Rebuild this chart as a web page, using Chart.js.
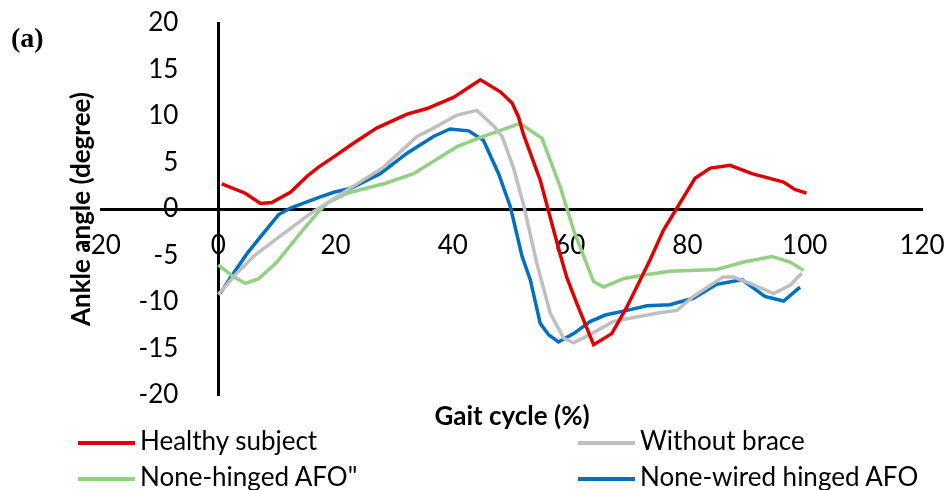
<!DOCTYPE html>
<html lang="en">

<head>
    <meta charset="UTF-8">
    <title>Ankle angle over gait cycle</title>
    <script src="https://cdnjs.cloudflare.com/ajax/libs/Chart.js/4.4.1/chart.umd.min.js"></script>
    <style>
        body {
            margin: 0;
            background: #fff;
        }

        .wrap {
            position: relative;
            width: 946px;
            height: 490px;
            overflow: hidden;
        }

        .legend-item {
            position: absolute;
            font-family: Lato, sans-serif;
            font-size: 26px;
            color: #000;
            line-height: 30px;
            white-space: nowrap;
        }

        .legend-item span.swatch {
            display: inline-block;
            width: 57px;
            height: 4px;
            margin-right: 5px;
            vertical-align: middle;
        }
    </style>
</head>

<body>
    <div class="wrap">
        <canvas id="chart" width="946" height="490"></canvas>
        <div id="legend"></div>
    </div>

    <script>
        // Series (gait cycle %, ankle angle in degrees)
        const healthyX = [0.6, 4.6, 7.2, 9.1, 12.3, 15.1, 17.1, 19.7, 23.1, 27.0, 32.2, 35.6, 40.1, 44.7, 48.1, 50.1, 51.2, 52.0, 54.9, 56.6, 58.4, 59.4, 61.1, 64.0, 67.1, 69.7, 73.6, 75.9, 78.2, 81.3, 83.9, 87.3, 91.0, 96.4, 98.3, 100.3];
        const healthyY = [2.7, 1.7, 0.6, 0.7, 1.8, 3.5, 4.5, 5.6, 7.1, 8.7, 10.2, 10.8, 12.0, 13.9, 12.6, 11.4, 9.9, 8.1, 3.1, -0.9, -5.1, -7.3, -10.1, -14.6, -13.4, -10.5, -5.5, -2.3, 0.1, 3.3, 4.4, 4.7, 3.8, 2.9, 2.1, 1.7];

        const noBraceX = [0, 3, 6, 10.6, 15.7, 21.9, 28.2, 33.9, 36.7, 40.7, 44.1, 47.0, 48.4, 50.3, 52.0, 54.3, 56.6, 58.9, 60.6, 63.4, 67.4, 71.4, 74.8, 78.2, 81.0, 86.1, 87.8, 90.7, 94.7, 97.5, 99.5];
        const noBraceY = [-9.2, -7.0, -5.1, -2.9, -0.5, 2.0, 4.5, 7.8, 8.7, 10.1, 10.6, 8.9, 7.8, 4.5, 0.6, -5.8, -11.2, -13.9, -14.4, -13.5, -12.1, -11.6, -11.2, -10.9, -9.4, -7.3, -7.3, -8.0, -9.1, -8.2, -6.9];

        const nonHingedX = [0, 2.6, 4.6, 6.9, 10.0, 14.0, 16.8, 18.5, 21.9, 28.7, 33.3, 40.7, 45.2, 51.5, 55.2, 58.3, 60.6, 64.0, 65.7, 69.1, 72.5, 77.0, 85.0, 89.6, 94.4, 97.5, 99.8];
        const nonHingedY = [-6.0, -7.3, -8.0, -7.5, -5.7, -2.6, -0.5, 0.6, 1.7, 2.8, 3.8, 6.7, 7.8, 9.2, 7.6, 2.4, -2.3, -7.8, -8.4, -7.5, -7.1, -6.7, -6.5, -5.7, -5.1, -5.7, -6.6];

        const wiredX = [0.3, 2.6, 4.9, 7.7, 10.3, 12.3, 17.4, 19.7, 22.5, 27.6, 32.2, 36.7, 39.5, 42.7, 45.2, 47.8, 49.8, 51.8, 53.2, 54.9, 56.3, 58.0, 60.6, 63.4, 66.0, 69.7, 73.1, 77.0, 81.0, 85.0, 89.3, 93.2, 96.4, 99.2];
        const wiredY = [-9.1, -6.9, -4.8, -2.6, -0.6, 0.1, 1.3, 1.8, 2.2, 3.8, 6.0, 7.8, 8.6, 8.4, 7.4, 3.8, 0.25, -5.1, -7.6, -12.3, -13.5, -14.3, -13.4, -12.1, -11.4, -10.9, -10.4, -10.3, -9.6, -8.1, -7.6, -9.4, -9.9, -8.4];

        const seriesNames = ['Healthy subject', 'Without brace', 'None-hinged AFO"', 'None-wired hinged AFO'];
        const seriesColors = ['#e00000', '#bfbfbf', '#92d184', '#0070c0'];

        const xTicks = [-20, 0, 20, 40, 60, 80, 100, 120];
        const yTicks = [-20, -15, -10, -5, 0, 5, 10, 15, 20];

        function toPoints(xs, ys) {
            return xs.map((x, i) => ({ x: x, y: ys[i] }));
        }

        const allSeries = [
            toPoints(healthyX, healthyY),
            toPoints(noBraceX, noBraceY),
            toPoints(nonHingedX, nonHingedY),
            toPoints(wiredX, wiredY)
        ];

        // Axis titles and panel tag, drawn on the canvas
        const textPlugin = {
            id: 'axisTitles',
            afterDraw(chart) {
                const ctx = chart.ctx;
                ctx.save();
                ctx.fillStyle = '#000';
                ctx.font = 'bold 26px Lato';
                ctx.textAlign = 'center';
                ctx.textBaseline = 'middle';
                ctx.fillText('Gait cycle (%)', 512, 417);

                ctx.translate(82, 209);
                ctx.rotate(-Math.PI / 2);
                ctx.fillText('Ankle angle (degree)', 0, 0);
                ctx.restore();

                ctx.save();
                ctx.font = 'bold 28px "Liberation Serif"';
                ctx.textAlign = 'left';
                ctx.textBaseline = 'middle';
                ctx.fillText('(a)', 11, 40);
                ctx.restore();
            }
        };

        // the axes cross inside the plot, so their labels must not shrink the plot area
        const noScalePadding = (scale) => {
            scale.paddingLeft = 0;
            scale.paddingRight = 0;
            scale.paddingTop = 0;
            scale.paddingBottom = 0;
        };

        const chart = new Chart(document.getElementById('chart'), {
            type: 'scatter',
            data: {
                datasets: allSeries.map((pts, i) => ({
                    label: seriesNames[i],
                    data: pts,
                    showLine: true,
                    borderColor: seriesColors[i],
                    backgroundColor: seriesColors[i],
                    borderWidth: 3.5,
                    pointRadius: 0,
                    tension: 0
                }))
            },
            options: {
                responsive: false,
                animation: false,
                layout: {
                    autoPadding: false,
                    padding: { left: 101, right: 24, top: 23, bottom: 95 }
                },
                scales: {
                    x: {
                        type: 'linear',
                        min: -20,
                        max: 120,
                        position: { y: 0 },
                        afterFit: noScalePadding,
                        afterBuildTicks: (s) => { s.ticks = xTicks.map(v => ({ value: v })); },
                        grid: { display: false, drawTicks: false },
                        border: { display: true, color: '#000', width: 3 },
                        ticks: {
                            color: '#000',
                            font: { family: 'Lato', size: 26 },
                            padding: 21,
                            maxRotation: 0
                        }
                    },
                    y: {
                        type: 'linear',
                        min: -20,
                        max: 20,
                        position: { x: 0 },
                        afterFit: noScalePadding,
                        afterBuildTicks: (s) => { s.ticks = yTicks.map(v => ({ value: v })); },
                        grid: { display: false, drawTicks: false },
                        border: { display: true, color: '#000', width: 3 },
                        ticks: {
                            color: '#000',
                            font: { family: 'Lato', size: 26 },
                            // labels sit against a centred axis, so pad them with trailing spaces
                            callback: (v) => v + '      '
                        }
                    }
                },
                plugins: {
                    legend: { display: false },
                    tooltip: { enabled: false }
                }
            },
            plugins: [textPlugin]
        });

        // Two-column legend under the plot, built from the datasets
        const legendSpots = [[78, 425], [578, 425], [78, 461], [578, 461]];
        const legendDiv = document.getElementById('legend');
        chart.data.datasets.forEach((ds, i) => {
            const item = document.createElement('div');
            item.className = 'legend-item';
            item.style.left = legendSpots[i][0] + 'px';
            item.style.top = legendSpots[i][1] + 'px';
            item.innerHTML = '<span class="swatch" style="background:' + ds.borderColor + '"></span>';
            item.appendChild(document.createTextNode(ds.label));
            legendDiv.appendChild(item);
        });
    </script>
</body>

</html>
